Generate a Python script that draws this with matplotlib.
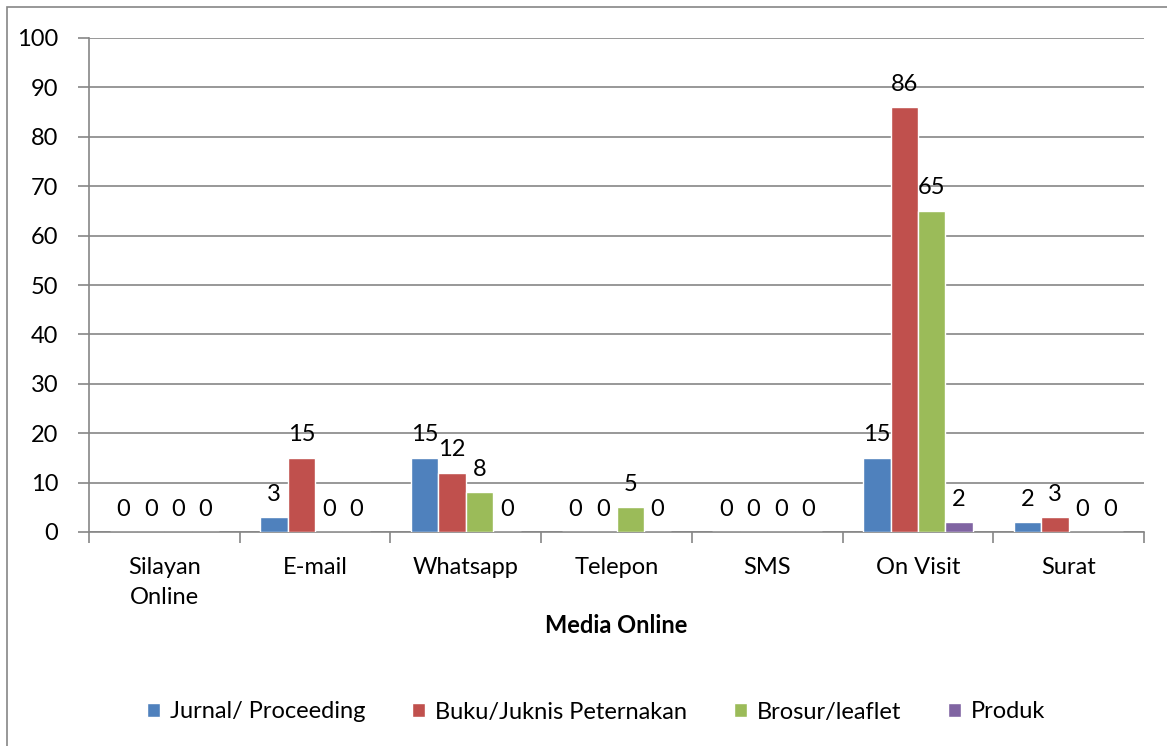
import matplotlib
matplotlib.use("Agg")
import matplotlib.pyplot as plt
import numpy as np
from matplotlib.patches import Rectangle

plt.rcParams['font.family'] = ['Lato', 'DejaVu Sans']

categories = ["Silayan\nOnline", "E-mail", "Whatsapp", "Telepon", "SMS", "On Visit", "Surat"]
series_names = ["Jurnal/ Proceeding", "Buku/Juknis Peternakan", "Brosur/leaflet", "Produk"]
jurnal = [0, 3, 15, 0, 0, 15, 2]
buku = [0, 15, 12, 0, 0, 86, 3]
brosur = [0, 0, 8, 5, 0, 65, 0]
produk = [0, 0, 0, 0, 0, 2, 0]
colors = ["#4F81BD", "#C0504D", "#9BBB59", "#8064A2"]
yticks = list(range(0, 101, 10))

FS = 17
W, H = 1167, 746
fig = plt.figure(figsize=(W / 100, H / 100), dpi=100)
left, right, bottom, top = 89, 1144, 532, 38
ax = fig.add_axes([left / W, 1 - bottom / H, (right - left) / W, (bottom - top) / H])

# outer chart border
fig.patches.append(Rectangle((7 / W, -0.01), 1.01, 1 - 7 / H + 0.01, transform=fig.transFigure,
                             fill=False, edgecolor="#868686", linewidth=1.2))

data = [jurnal, buku, brosur, produk]
x = np.arange(len(categories))
bw = 1 / 5.5
for i, (vals, c, name) in enumerate(zip(data, colors, series_names)):
    pos = x + (i - 1.5) * bw
    bars = ax.bar(pos, vals, width=bw, color=c, edgecolor="white", linewidth=1.0, label=name, zorder=3)
    for b, v in zip(bars, vals):
        ax.annotate(str(v), (b.get_x() + b.get_width() / 2, v), xytext=(0, 9),
                    textcoords="offset points", ha="center", va="bottom", fontsize=FS, zorder=4)

ax.set_xlim(-0.5, len(categories) - 0.5)
ax.set_ylim(0, 100)
ax.set_yticks(yticks)
ax.set_yticklabels([str(t) for t in yticks], fontsize=FS)
ax.yaxis.grid(True, color="#868686", linewidth=1.2, zorder=0)
ax.set_axisbelow(True)

ax.set_xticks(x)
ax.set_xticklabels(categories, fontsize=FS, linespacing=1.55)
ax.set_xticks(np.arange(-0.5, len(categories) + 0.5, 1), minor=True)
ax.tick_params(axis="x", which="major", length=0, pad=18)
ax.tick_params(axis="x", which="minor", length=8, width=1.2, color="#868686", direction="out")
ax.tick_params(axis="y", length=8, width=1.2, color="#868686", direction="out", pad=14)

for s in ["top", "right"]:
    ax.spines[s].set_visible(False)
for s in ["left", "bottom"]:
    ax.spines[s].set_color("#868686")
    ax.spines[s].set_linewidth(1.2)

ax.set_xlabel("Media Online", fontsize=FS, fontweight="bold", labelpad=4)

leg = fig.legend(loc="center", bbox_to_anchor=(596 / W, 1 - 712 / H), ncol=4, frameon=False,
                 fontsize=FS, handlelength=0.55, handleheight=0.55, handletextpad=0.4, columnspacing=2.0)

fig.savefig("out.png", dpi=100)
